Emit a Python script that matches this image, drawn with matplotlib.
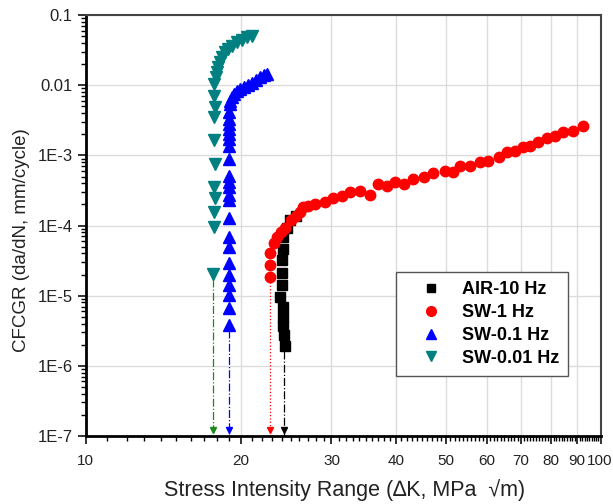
import matplotlib
matplotlib.use("Agg")
import matplotlib.pyplot as plt
import matplotlib.transforms as mtransforms
from matplotlib.ticker import FixedLocator, FixedFormatter, NullFormatter

plt.rcParams['font.family'] = ['Liberation Sans', 'DejaVu Sans']

# ---------------- data ----------------
air_dk = [24.34, 24.24, 24.13, 24.13, 24.13, 23.81, 24.02, 24.02, 24.02, 24.13, 24.13, 24.56, 24.90, 25.58]
air_da = [1.93e-6, 2.77e-6, 3.73e-6, 5.01e-6, 6.97e-6, 9.68e-6, 1.44e-5, 2.13e-5, 3.27e-5, 4.69e-5,
          6.97e-5, 9.36e-5, 1.18e-4, 1.39e-4]

sw1_dk = [22.76, 22.76, 22.76, 23.18, 23.49, 23.91, 24.34, 25.01, 25.58, 26.03, 26.39, 26.98, 27.84,
          29.11, 30.17, 31.42, 32.56, 34.04, 35.60, 36.90, 38.41, 39.81, 41.46, 43.15, 45.33, 47.20,
          49.80, 51.61, 53.25, 55.67, 58.21, 60.34, 63.37, 65.69, 68.08, 70.56, 72.80, 75.45, 78.55,
          81.42, 84.38, 88.24, 92.25]
sw1_da = [1.87e-5, 2.77e-5, 4.11e-5, 5.71e-5, 6.97e-5, 8.20e-5, 9.36e-5, 1.18e-4, 1.39e-4, 1.58e-4,
          1.81e-4, 1.87e-4, 2.0e-4, 2.20e-4, 2.43e-4, 2.60e-4, 2.96e-4, 3.06e-4, 2.77e-4, 3.85e-4,
          3.61e-4, 4.11e-4, 3.85e-4, 4.54e-4, 4.85e-4, 5.53e-4, 5.90e-4, 5.71e-4, 6.97e-4, 6.97e-4,
          7.94e-4, 8.20e-4, 9.36e-4, 1.10e-3, 1.14e-3, 1.30e-3, 1.35e-3, 1.53e-3, 1.75e-3, 1.87e-3,
          2.13e-3, 2.20e-3, 2.60e-3]

sw01_dk = [18.95, 18.95, 18.95, 18.95, 18.95, 18.95, 18.95, 18.95, 18.95, 18.95, 18.95, 18.95, 18.95,
           18.95, 18.95, 18.95, 18.95, 18.95, 18.95, 18.95, 18.95, 18.95, 19.04,
           19.04, 19.21, 19.39, 19.64, 19.91, 20.27, 20.63, 21.00, 21.38, 21.77, 22.16, 22.46]
sw01_da = [3.86e-6, 6.74e-6, 1.03e-5, 1.44e-5, 2.0e-5, 2.96e-5, 5.01e-5, 6.97e-5, 1.30e-4, 2.35e-4,
           2.77e-4, 3.49e-4, 4.11e-4, 5.01e-4, 8.77e-4, 1.35e-3, 1.69e-3, 2.0e-3, 2.35e-3, 2.77e-3,
           3.27e-3, 4.11e-3, 5.36e-3,
           5.90e-3, 6.74e-3, 7.43e-3, 8.20e-3, 8.77e-3, 9.36e-3, 1.00e-2, 1.07e-2, 1.18e-2, 1.30e-2,
           1.39e-2, 1.44e-2]

sw001_dk = [17.64, 17.72, 17.72, 17.80, 17.72, 17.80, 17.72, 17.72, 17.80, 17.72, 17.72,
            17.88, 17.96, 18.04, 18.20, 18.37, 18.62, 18.87, 19.21, 19.64, 20.08, 20.54, 21.00]
sw001_da = [2.06e-5, 9.68e-5, 1.58e-4, 2.43e-4, 3.49e-4, 7.43e-4, 1.64e-3, 3.49e-3, 4.85e-3,
            6.97e-3, 1.033e-2, 1.30e-2, 1.534e-2, 1.808e-2, 2.131e-2, 2.512e-2, 2.96e-2, 3.27e-2,
            3.61e-2, 4.11e-2, 4.40e-2, 4.85e-2, 5.01e-2]

labels = ['AIR-10 Hz', 'SW-1 Hz', 'SW-0.1 Hz', 'SW-0.01 Hz']
colors = ['#000000', '#ff0000', '#0000ff', '#008080']
line_colors = ['#000000', '#ff0000', '#0000ff', '#1a8a1a']
markers = ['s', 'o', '^', 'v']
threshold_dk = [24.24, 22.76, 18.95, 17.64]
threshold_da = [1.93e-6, 1.87e-5, 3.86e-6, 2.06e-5]
line_styles = ['-.', ':', '-.', '-.']

xticks = [10, 20, 30, 40, 50, 60, 70, 80, 90, 100]
xticklabels = ['10', '20', '30', '40', '50', '60', '70', '80', '90', '100']
xminor = [v for v in range(11, 100) if v % 10 != 0]
yticks = [1e-7, 1e-6, 1e-5, 1e-4, 1e-3, 1e-2, 1e-1]
yticklabels = ['1E-7', '1E-6', '1E-5', '1E-4', '1E-3', '0.01', '0.1']

# ---------------- figure ----------------
fig = plt.figure(figsize=(6.13, 5.04), dpi=100)
ax = fig.add_axes([0.140, 0.135, 0.840, 0.835])
ax.set_xscale('log')
ax.set_yscale('log')
ax.set_xlim(10, 100)
ax.set_ylim(1e-7, 0.1)

ymin = 1e-7
# drop lines with arrows
for dk, da, lc, ls in zip(threshold_dk, threshold_da, line_colors, line_styles):
    ax.plot([dk, dk], [da * 0.85, ymin], color=lc, lw=0.9, ls=ls, zorder=2)
    ax.plot([dk], [ymin * 1.2], marker='v', color=lc, ms=5, ls='none', zorder=3, clip_on=False)

series = [(air_dk, air_da), (sw1_dk, sw1_da), (sw01_dk, sw01_da), (sw001_dk, sw001_da)]
sizes = [6.5, 7.5, 8, 8]
handles = []
for i in range(4):
    xs, ys = series[i]
    h, = ax.plot(xs, ys, ls='none', marker=markers[i], color=colors[i], mec=colors[i],
                 ms=sizes[i], label=labels[i], zorder=4 if i != 0 else 3.5)
    handles.append(h)

ax.xaxis.set_major_locator(FixedLocator(xticks))
ax.xaxis.set_major_formatter(FixedFormatter(xticklabels))
ax.xaxis.set_minor_locator(FixedLocator(xminor))
ax.xaxis.set_minor_formatter(NullFormatter())
ax.yaxis.set_major_locator(FixedLocator(yticks))
ax.yaxis.set_major_formatter(FixedFormatter(yticklabels))

ax.grid(True, which='major', color='#dcdcdc', lw=1.0, zorder=0)
ax.set_axisbelow(True)

ax.tick_params(axis='both', which='major', direction='out', length=6, width=1.3,
               labelsize=12, colors='#222222')
ax.tick_params(axis='x', which='major', labelsize=11, pad=7)
ax.tick_params(axis='both', which='minor', direction='out', length=3.5, width=1.0)

# nudge the last x tick label so it stays inside the figure
last_lbl = ax.get_xticklabels()[-1]
last_lbl.set_transform(last_lbl.get_transform() +
                       mtransforms.ScaledTranslation(-1.5 / 100, 0, fig.dpi_scale_trans))

for s in ['left', 'bottom']:
    ax.spines[s].set_linewidth(2.0)
    ax.spines[s].set_color('#000000')
for s in ['top', 'right']:
    ax.spines[s].set_linewidth(1.5)
    ax.spines[s].set_color('#444444')

leg = ax.legend(handles=handles, loc='upper left', bbox_to_anchor=(0.602, 0.389),
                frameon=True, fancybox=False, edgecolor='#555555', framealpha=1,
                prop={'weight': 'bold', 'size': 13}, handlelength=2.9, handletextpad=0.25,
                labelspacing=0.32, borderpad=0.5, borderaxespad=0)
leg.get_frame().set_linewidth(1.0)
for lh, s in zip(leg.legend_handles, [6, 7, 7, 7]):
    lh.set_markersize(s)

fig.text(0.562, 0.028, 'Stress Intensity Range (\u2206K, MPa  \u221am)', ha='center', va='center',
         fontsize=15.5, color='#222222')
fig.text(0.035, 0.524, 'CFCGR (da/dN, mm/cycle)', ha='center', va='center', rotation=90,
         fontsize=13.5, color='#222222')

fig.savefig('out.png', dpi=100)
